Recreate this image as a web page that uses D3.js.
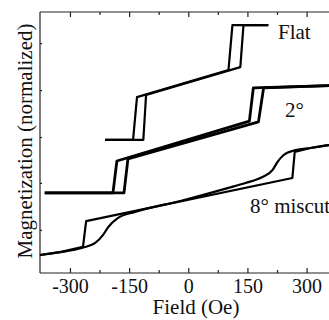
<!DOCTYPE html>
<html>
<head>
<meta charset="utf-8">
<script src="https://cdn.jsdelivr.net/npm/d3@7"></script>
<style>
  body { margin: 0; background: #fff; }
  svg { display: block; }
</style>
</head>
<body>
<script>
// field in Oe, magnetization normalized (curves stacked with offsets)
var flatDown = [[203, 0.950], [112, 0.950], [102, 0.778], [-130, 0.674], [-140, 0.510], [-211, 0.510]];
var flatUp   = [[-211, 0.510], [-114, 0.510], [-107, 0.682], [132, 0.789], [140, 0.950], [203, 0.950]];

var deg2Down = [[399, 0.720], [165, 0.709], [155, 0.582], [-181, 0.429], [-191, 0.307], [-364, 0.307]];
var deg2Up   = [[-364, 0.307], [-163, 0.307], [-153, 0.437], [178, 0.579], [191, 0.709], [399, 0.720]];

var deg8Up = [[-376, 0.069], [-325, 0.080], [-267, 0.100], [-259, 0.199], [264, 0.364],
              [270, 0.464], [310, 0.479], [356, 0.490], [399, 0.498]];
var deg8Down = [[-376, 0.069], [-325, 0.080], [-270, 0.096], [-236, 0.115], [-216, 0.146],
                [-203, 0.176], [-178, 0.211], [-135, 0.234], [-20, 0.276], [102, 0.326],
                [145, 0.345], [188, 0.368], [214, 0.395], [226, 0.425], [242, 0.452],
                [272, 0.471], [310, 0.479], [356, 0.490], [399, 0.498]];

var majorTicks = [-300, -150, 0, 150, 300];
var majorLabels = ["-300", "-150", "0", "150", "300"];
var minorTicks = [-225, -75, 75, 225];
var yTicks = [0.165, 0.345, 0.521, 0.701, 0.881];

var curveLabels = [
  {text: "Flat", x: 278, y: 39},
  {text: "2\u00b0", x: 285, y: 117},
  {text: "8\u00b0 miscut", x: 250, y: 213}
];

var serif = "Liberation Serif, DejaVu Serif, Times New Roman, serif";
var width = 329, height = 320;
var margin = {left: 40, top: 12, bottom: 47};

var svg = d3.select("body").append("svg")
    .attr("width", width)
    .attr("height", height)
    .attr("font-family", serif);

var x = d3.scaleLinear().domain([-376, 400]).range([margin.left, 346]);
var y = d3.scaleLinear().domain([0, 1]).range([height - margin.bottom, margin.top]);

var x0 = x.range()[0], x1 = x.range()[1];
var y0 = y.range()[0], y1 = y.range()[1];

// frame
svg.append("g").attr("stroke", "#222").attr("stroke-width", 1.2)
  .selectAll("line")
  .data([[x0, y1, x1, y1], [x0, y0, x1, y0], [x0, y0, x0, y1]])
  .join("line")
    .attr("x1", function(d){ return d[0]; }).attr("y1", function(d){ return d[1]; })
    .attr("x2", function(d){ return d[2]; }).attr("y2", function(d){ return d[3]; });

// bottom axis, ticks point inward
var bottom = svg.append("g")
    .attr("transform", "translate(0," + y0 + ")")
    .call(d3.axisBottom(x).tickValues(majorTicks)
      .tickFormat(function(d, i){ return majorLabels[i]; })
      .tickSizeInner(-5).tickSizeOuter(0).tickPadding(6));
svg.append("g")
    .attr("transform", "translate(0," + y0 + ")")
    .call(d3.axisBottom(x).tickValues(minorTicks).tickFormat("").tickSizeInner(-3).tickSizeOuter(0));

svg.append("g")
    .attr("transform", "translate(0," + y1 + ")")
    .call(d3.axisTop(x).tickValues(majorTicks).tickFormat("").tickSizeInner(-5).tickSizeOuter(0));
svg.append("g")
    .attr("transform", "translate(0," + y1 + ")")
    .call(d3.axisTop(x).tickValues(minorTicks).tickFormat("").tickSizeInner(-3).tickSizeOuter(0));

svg.append("g")
    .attr("transform", "translate(" + x0 + ",0)")
    .call(d3.axisLeft(y).tickValues(yTicks).tickFormat("").tickSizeInner(-2).tickSizeOuter(0));

svg.selectAll(".domain").remove();
svg.selectAll("g").attr("font-family", serif);
svg.selectAll(".tick line").attr("stroke", "#222").attr("stroke-width", 1.2);
bottom.selectAll(".tick text")
    .attr("font-size", 20)
    .attr("fill", "#111");

// curves
var sharp = d3.line()
    .x(function(d){ return x(d[0]); })
    .y(function(d){ return y(d[1]); });
var smooth = d3.line()
    .x(function(d){ return x(d[0]); })
    .y(function(d){ return y(d[1]); })
    .curve(d3.curveMonotoneX);

var curves = [
  {data: flatDown, gen: sharp, w: 2.2},
  {data: flatUp, gen: sharp, w: 2.2},
  {data: deg2Down, gen: sharp, w: 2.8},
  {data: deg2Up, gen: sharp, w: 2.8},
  {data: deg8Up, gen: sharp, w: 2.2},
  {data: deg8Down, gen: smooth, w: 2.2}
];

svg.append("g").selectAll("path")
  .data(curves)
  .join("path")
    .attr("d", function(c){ return c.gen(c.data); })
    .attr("fill", "none")
    .attr("stroke", "#000")
    .attr("stroke-width", function(c){ return c.w; })
    .attr("stroke-linejoin", "round");

svg.append("g").selectAll("text")
  .data(curveLabels)
  .join("text")
    .attr("x", function(d){ return d.x; })
    .attr("y", function(d){ return d.y; })
    .attr("font-size", 21)
    .attr("fill", "#111")
    .text(function(d){ return d.text; });

// axis titles
svg.append("text")
    .attr("x", 196).attr("y", 314)
    .attr("text-anchor", "middle")
    .attr("font-size", 21)
    .attr("fill", "#111")
    .text("Field (Oe)");

svg.append("text")
    .attr("transform", "translate(32,141) rotate(-90)")
    .attr("text-anchor", "middle")
    .attr("font-size", 21)
    .attr("fill", "#111")
    .text("Magnetization (normalized)");
</script>
</body>
</html>
